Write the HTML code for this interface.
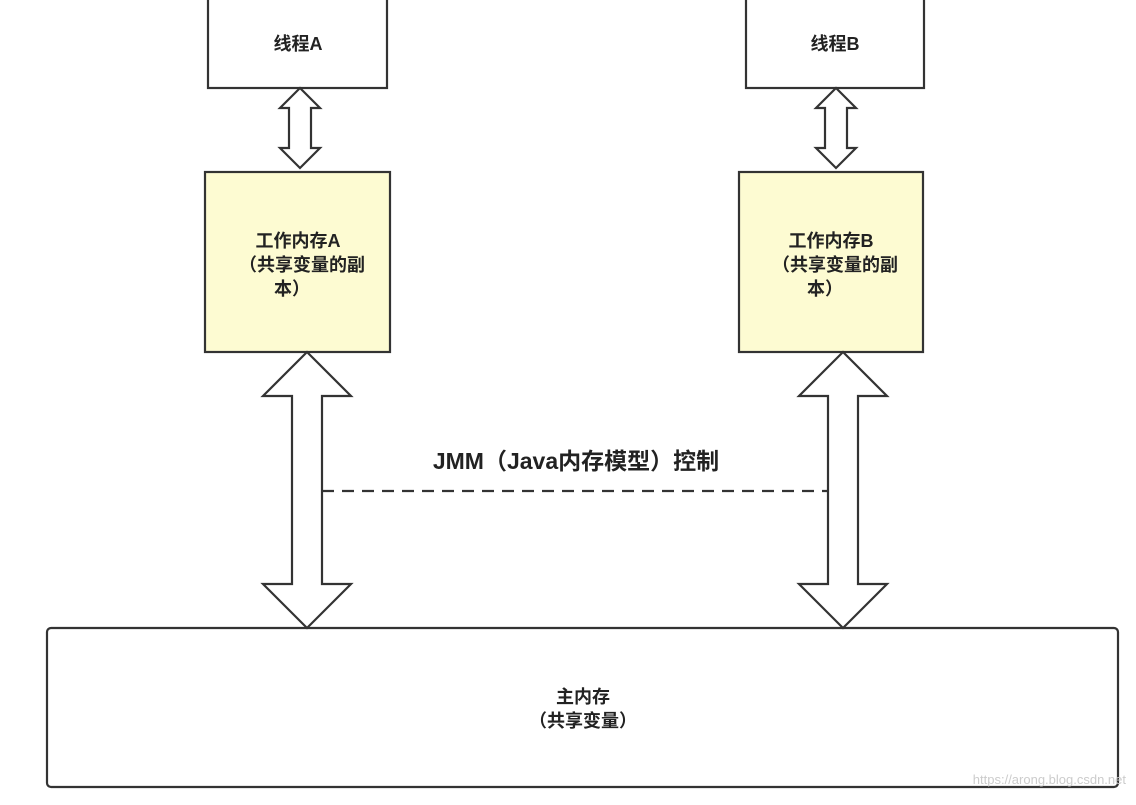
<!DOCTYPE html>
<html><head><meta charset="utf-8"><style>
body{margin:0;background:#fff;}
svg text{font-family:"Liberation Sans","Noto Sans CJK SC",sans-serif;fill:#222;}
</style></head><body>
<svg width="1136" height="800" viewBox="0 0 1136 800" xmlns="http://www.w3.org/2000/svg">
<g stroke="#333" stroke-width="2.2" fill="#fff">
<rect x="208" y="-3" width="179" height="91"/>
<rect x="746" y="-3" width="178" height="91"/>
<rect x="205" y="172" width="185" height="180" fill="#fdfbd2"/>
<rect x="739" y="172" width="184" height="180" fill="#fdfbd2"/>
<rect x="47" y="628" width="1071" height="159" rx="4"/>
<polygon points="300,88 320,108 311,108 311,148 320,148 300,168 280,148 289,148 289,108 280,108"/>
<polygon points="836,88 856,108 847,108 847,148 856,148 836,168 816,148 825,148 825,108 816,108"/>
<polygon points="307,352 351,396 322,396 322,584 351,584 307,628 263,584 292,584 292,396 263,396"/>
<polygon points="843,352 887,396 858,396 858,584 887,584 843,628 799,584 828,584 828,396 799,396"/>
</g>
<line x1="322" y1="491" x2="828" y2="491" stroke="#333" stroke-width="2.2" stroke-dasharray="12,8"/>
<g font-size="18" font-weight="600" text-anchor="middle">
<text x="298" y="50">线程A</text>
<text x="835" y="50">线程B</text>
<text x="298" y="247">工作内存A</text>
<text x="302" y="271">（共享变量的副</text>
<text x="292" y="295">本）</text>
<text x="831" y="247">工作内存B</text>
<text x="835" y="271">（共享变量的副</text>
<text x="825" y="295">本）</text>
<text x="583" y="703">主内存</text>
<text x="583" y="727">（共享变量）</text>
</g>
<text x="576" y="469" font-size="23" font-weight="600" text-anchor="middle">JMM（Java内存模型）控制</text>
<text x="1126" y="784" font-size="13" text-anchor="end" style="fill:#ccc">https://arong.blog.csdn.net</text>
</svg>
</body></html>
